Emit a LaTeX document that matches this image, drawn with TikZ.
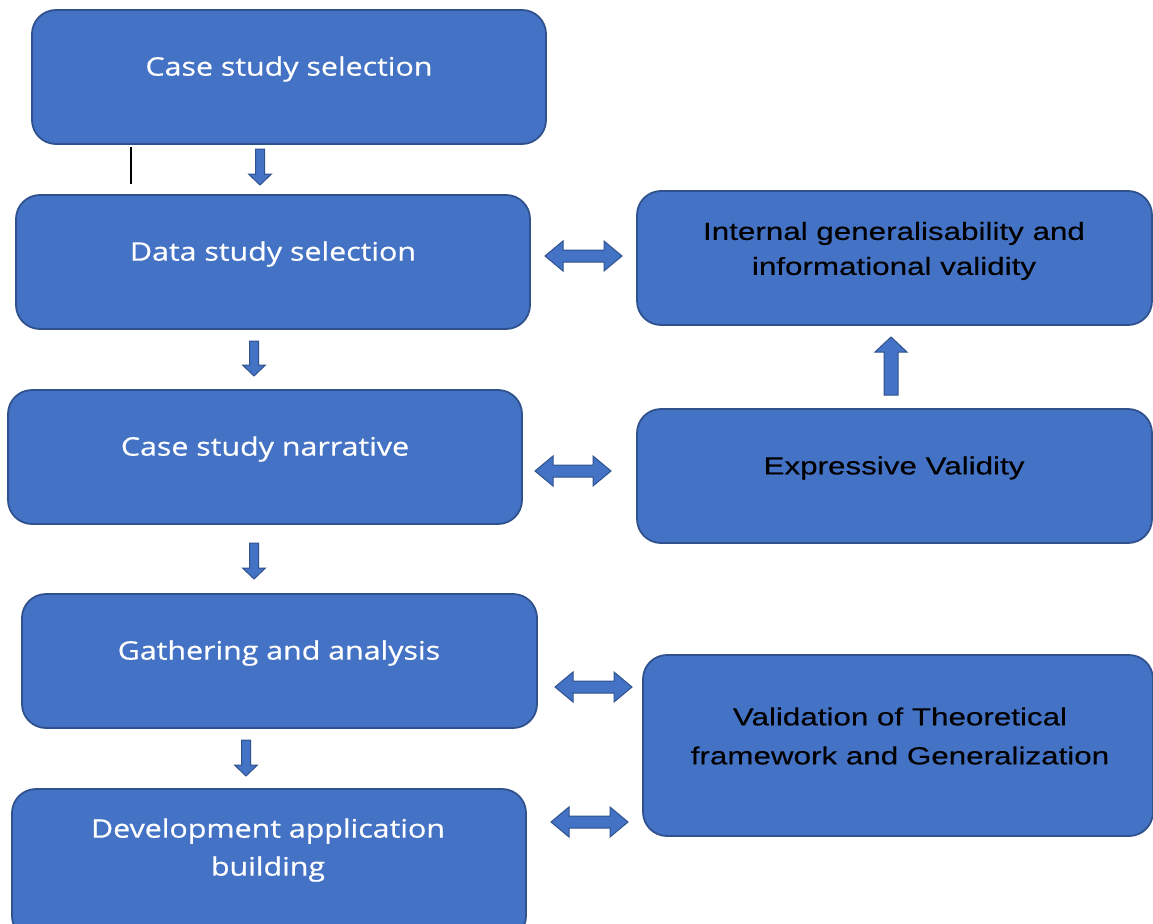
\documentclass[tikz,border=0pt]{standalone}
\usepackage{fontspec}
\setmainfont{Open Sans}
\newfontfamily\lefttextfont[FakeStretch=1.19,FakeBold=0.6]{Open Sans}
\newfontfamily\righttextfont[FakeStretch=1.27,FakeBold=0.3]{Liberation Sans}
\definecolor{boxfill}{HTML}{4472C4}
\definecolor{boxline}{HTML}{2F528F}
\newcommand{\varrowdown}[6]{% cx, ytop, ybot, shaft half, head half, head length
  \draw[arr] ({#1-#4},#2) -- ({#1+#4},#2) -- ({#1+#4},{#3-#6}) -- ({#1+#5},{#3-#6}) -- (#1,#3) -- ({#1-#5},{#3-#6}) -- ({#1-#4},{#3-#6}) -- cycle;}
\newcommand{\varrowup}[6]{% cx, ybot, ytop, shaft half, head half, head length
  \draw[arr] ({#1-#4},#2) -- ({#1+#4},#2) -- ({#1+#4},{#3+#6}) -- ({#1+#5},{#3+#6}) -- (#1,#3) -- ({#1-#5},{#3+#6}) -- ({#1-#4},{#3+#6}) -- cycle;}
\newcommand{\harrowdbl}[6]{% cy, xl, xr, shaft half, head half, head length
  \draw[arr] (#2,#1) -- ({#2+#6},{#1-#5}) -- ({#2+#6},{#1-#4}) -- ({#3-#6},{#1-#4}) -- ({#3-#6},{#1-#5}) -- (#3,#1) -- ({#3-#6},{#1+#5}) -- ({#3-#6},{#1+#4}) -- ({#2+#6},{#1+#4}) -- ({#2+#6},{#1+#5}) -- cycle;}
\begin{document}
\begin{tikzpicture}[x=1pt,y=-1pt,
  box/.style={draw=boxline, line width=1.8pt, fill=boxfill, rounded corners=24pt, inner sep=0pt},
  wtxt/.style={text=white, font=\lefttextfont\fontsize{25.5}{38}\selectfont, align=center, inner sep=0pt},
  btxt/.style={text=black, font=\righttextfont\fontsize{24.7}{35}\selectfont, align=center, inner sep=0pt},
  arr/.style={draw=boxline, line width=1pt, fill=boxfill, line join=miter}]
\useasboundingbox (0,0) rectangle (1153,923);
% left boxes
\draw[box] (32,10) rectangle (546,144); \node[wtxt] (t1) at (289,69) {Case study selection};
\draw[box] (16,195) rectangle (530,329); \node[wtxt] (t2) at (273,254) {Data study selection};
\draw[box] (8,390) rectangle (522,524); \node[wtxt] (t3) at (265,449) {Case study narrative};
\draw[box] (22,594) rectangle (537,728); \node[wtxt] (t4) at (279,653) {Gathering and analysis};
\draw[box] (12,789) rectangle (526,940); \node[wtxt] (t5) at (268,850) {Development application\\building};
% right boxes
\draw[box] (637,191) rectangle (1152,325); \node[btxt] (r1) at (894,251) {Internal generalisability and\\informational validity};
\draw[box] (637,409) rectangle (1152,543); \node[btxt] (r2) at (894,468) {Expressive Validity};
\draw[box] (643,655) rectangle (1153,836); \node[btxt, font=\righttextfont\fontsize{24.7}{39}\selectfont] (r3) at (900,736) {Validation of Theoretical\\framework and Generalization};
% down arrows
\varrowdown{260}{149}{185}{4.5}{11.5}{11}
\varrowdown{254}{341}{376}{4.5}{11.5}{11}
\varrowdown{254}{543}{579}{4.5}{11.5}{11}
\varrowdown{246}{740}{776}{4.5}{11.5}{11}
% up arrow
\varrowup{891}{395}{337}{7}{16}{15}
% double arrows
\harrowdbl{256}{545}{622}{6}{15}{18}
\harrowdbl{471}{535}{611}{6}{15}{18}
\harrowdbl{687}{555}{632}{6}{15}{18}
\harrowdbl{822}{551}{628}{6}{15}{18}
% thin line
\draw[line width=1.2pt] (131,147) -- (131,184);
\end{tikzpicture}
\end{document}
